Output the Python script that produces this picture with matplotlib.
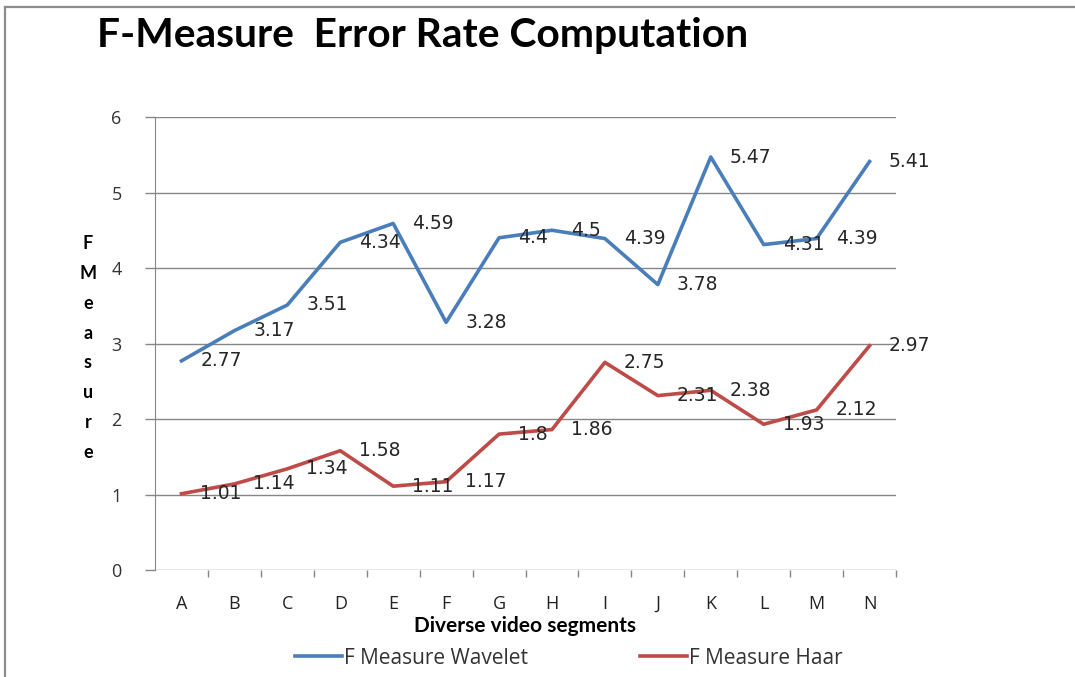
import matplotlib.pyplot as plt
from matplotlib.lines import Line2D

segments = ["A", "B", "C", "D", "E", "F", "G", "H", "I", "J", "K", "L", "M", "N"]
wavelet = [2.77, 3.17, 3.51, 4.34, 4.59, 3.28, 4.4, 4.5, 4.39, 3.78, 5.47, 4.31, 4.39, 5.41]
haar = [1.01, 1.14, 1.34, 1.58, 1.11, 1.17, 1.8, 1.86, 2.75, 2.31, 2.38, 1.93, 2.12, 2.97]
yticks = [0, 1, 2, 3, 4, 5, 6]

BLUE = "#4a7ebb"
RED = "#be4b48"
GRID = "#868686"

fig = plt.figure(figsize=(10.75, 6.77), dpi=100)
ax = fig.add_axes([155 / 1075, 1 - 570 / 677, 741 / 1075, 453 / 677])

x = list(range(len(segments)))
ax.plot(x, wavelet, color=BLUE, lw=2.6, label="F Measure Wavelet")
ax.plot(x, haar, color=RED, lw=2.6, label="F Measure Haar")

for xi, v in zip(x, wavelet):
    ax.annotate(f"{v:g}", (xi, v), xytext=(19, 0), textcoords="offset pixels",
                ha="left", va="center", fontsize=13.5, family="DejaVu Sans", color="#262626")
for xi, v in zip(x, haar):
    ax.annotate(f"{v:g}", (xi, v), xytext=(19, 0), textcoords="offset pixels",
                ha="left", va="center", fontsize=13.5, family="DejaVu Sans", color="#262626")

ax.set_xlim(-0.5, len(segments) - 0.5)
ax.set_ylim(0, 6)
ax.set_yticks(yticks)
ax.set_yticklabels([str(t) for t in yticks], family="Open Sans", fontsize=13, color="#333333")
ax.set_xticks(x)
ax.set_xticklabels(segments, family="Open Sans", fontsize=13, color="#222222")
ax.set_xticks([i + 0.5 for i in x], minor=True)
ax.tick_params(axis="x", which="major", length=0, pad=18)
ax.tick_params(axis="x", which="minor", length=5, color=GRID, width=1)
ax.tick_params(axis="y", length=7, color=GRID, width=1, pad=17)
ax.grid(axis="y", color=GRID, lw=1)
ax.set_axisbelow(True)
for s in ["top", "right", "bottom"]:
    ax.spines[s].set_visible(False)
ax.spines["left"].set_color(GRID)

ax.set_xlabel("Diverse video segments", family="Lato", fontweight="bold", fontsize=15, labelpad=2)
fig.text(88 / 1075, 1 - 348 / 677, "\n".join("FMeasure"), ha="center", va="center",
         family="Lato", fontweight="bold", fontsize=13, linespacing=1.92)

fig.text(97 / 1075, 1 - 36 / 677, "F-Measure  Error Rate Computation", ha="left", va="center",
         family="Lato", fontweight="bold", fontsize=29.3)

fig.legend(loc="center", bbox_to_anchor=(569 / 1075, 1 - 658 / 677), ncol=2, frameon=False,
           prop={"family": "Open Sans", "size": 15}, handlelength=2.25, handletextpad=0.1,
           columnspacing=5.4, labelcolor="#333333")

fig.add_artist(Line2D([5 / 1075, 5 / 1075], [0, 1 - 7 / 677], color="#8c8c8c", lw=1.6))
fig.add_artist(Line2D([5 / 1075, 1], [1 - 7 / 677, 1 - 7 / 677], color="#8c8c8c", lw=1.6))

fig.savefig("out.png", dpi=100)
